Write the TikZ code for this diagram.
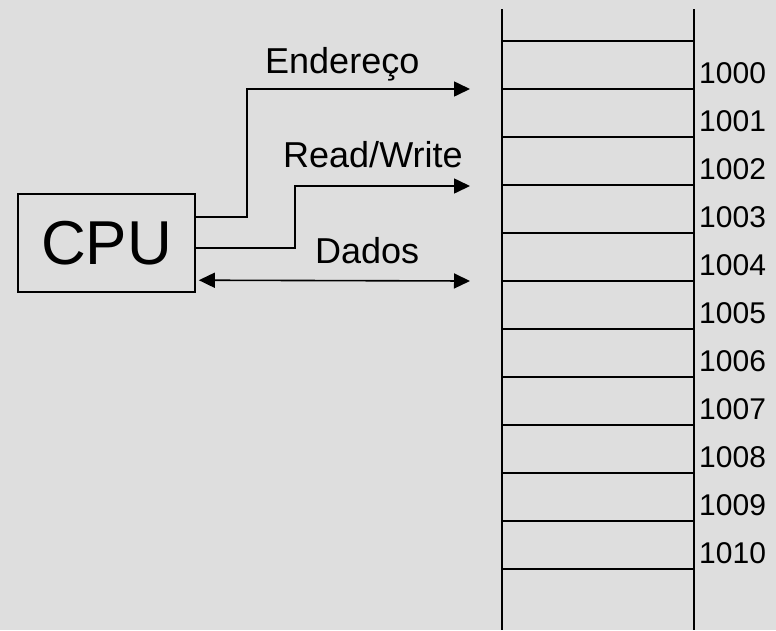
\documentclass[tikz,border=0pt]{standalone}
\usepackage{fontspec}
\setmainfont{Liberation Sans}
\usetikzlibrary{arrows.meta}
\definecolor{bg}{RGB}{222,222,222}
\begin{document}
\begin{tikzpicture}[x=1pt,y=-1pt,
  wire/.style={line width=1.6pt},
  memline/.style={line width=2pt},
  tip/.style={-{Triangle[length=16pt,width=15pt]}},
  dtip/.style={{Triangle[length=16pt,width=15pt]}-{Triangle[length=16pt,width=15pt]}},
  lbl/.style={inner sep=0pt,anchor=base west,font=\fontsize{36}{40}\selectfont},
  addr/.style={inner sep=0pt,anchor=base west,font=\fontsize{30}{34}\selectfont},
  cpubox/.style={draw,line width=1.6pt,minimum width=177pt,minimum height=98pt,inner sep=0pt,font=\fontsize{62}{66}\selectfont}]
\fill[bg] (0,0) rectangle (776,630);
\useasboundingbox (0,0) rectangle (776,630);
% CPU
\node[cpubox] (cpu) at (106.5,243) {CPU};
% arrow end points
\coordinate (eA) at (470,89);
\coordinate (eB) at (470,186);
\coordinate (eC) at (470,281);
% connectors
\draw[wire,tip] ([yshift=-24pt]cpu.north east) -- ++(51,0) |- (eA);
\draw[wire,tip] ([yshift=-55pt]cpu.north east) -- ++(99,0) |- (eB);
\draw[wire,dtip] ([xshift=3pt,yshift=-87pt]cpu.north east) -- (eC);
% labels
\node[lbl] (tA) at (265,73) {Endereço};
\node[lbl] (tB) at (283,167) {Read/Write};
\node[lbl] (tC) at (315,263) {Dados};
% memory
\draw[memline] (502,9) -- (502,630);
\draw[memline] (694,9) -- (694,630);
\foreach \i in {0,...,11}{
  \draw[memline] (502,41+48*\i) -- (694,41+48*\i);
}
\foreach \i in {0,...,10}{
  \pgfmathtruncatemacro\n{1000+\i}
  \node[addr] (m\i) at (699,83+48*\i) {\n};
}
\end{tikzpicture}
\end{document}
